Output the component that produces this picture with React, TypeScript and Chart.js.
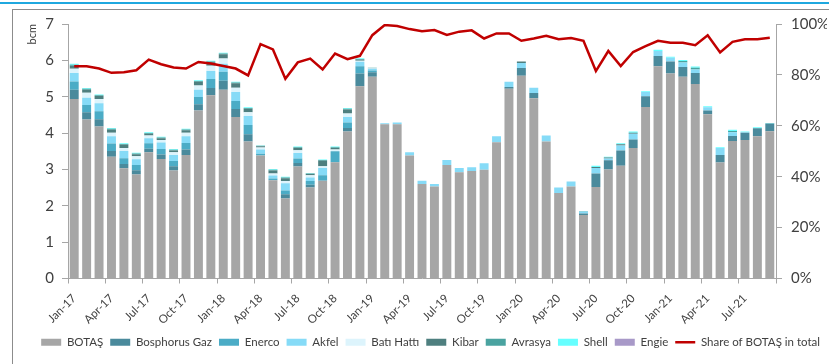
import React, { useEffect, useRef } from 'react';
import { Chart, registerables } from 'chart.js';

Chart.register(...registerables);

const categories = [
  'Jan-17','Feb-17','Mar-17','Apr-17','May-17','Jun-17','Jul-17','Aug-17','Sep-17','Oct-17','Nov-17','Dec-17',
  'Jan-18','Feb-18','Mar-18','Apr-18','May-18','Jun-18','Jul-18','Aug-18','Sep-18','Oct-18','Nov-18','Dec-18',
  'Jan-19','Feb-19','Mar-19','Apr-19','May-19','Jun-19','Jul-19','Aug-19','Sep-19','Oct-19','Nov-19','Dec-19',
  'Jan-20','Feb-20','Mar-20','Apr-20','May-20','Jun-20','Jul-20','Aug-20','Sep-20','Oct-20','Nov-20','Dec-20',
  'Jan-21','Feb-21','Mar-21','Apr-21','May-21','Jun-21','Jul-21','Aug-21','Sep-21',
];

const botas = [
  4.94,4.37,4.18,3.35,3.03,2.86,3.47,3.29,2.97,3.40,4.62,5.04,
  5.19,4.44,3.77,3.38,2.70,2.20,3.08,2.50,2.69,3.20,4.04,5.29,
  5.55,4.24,4.24,3.38,2.60,2.53,3.12,2.92,2.96,2.99,3.75,5.22,
  5.58,4.96,3.77,2.35,2.53,1.75,2.52,3.00,3.10,3.59,4.72,5.84,
  5.64,5.55,5.35,4.52,3.19,3.78,3.81,3.91,4.05,
];
const bosphorus = [
  0.25,0.20,0.20,0.16,0.12,0.12,0.10,0.12,0.12,0.15,0.17,0.20,
  0.25,0.22,0.20,0.00,0.00,0.12,0.10,0.08,0.00,0.00,0.10,0.35,
  0.12,0,0,0,0,0,0,0,0,0,0,0.05,
  0.21,0.14,0,0,0,0.04,0.37,0.25,0.42,0.23,0.29,0.28,
  0.33,0.27,0.30,0.10,0.21,0.14,0.20,0.22,0.21,
];
const enerco = [
  0.23,0.20,0.22,0.20,0.16,0.14,0.15,0.15,0.14,0.18,0.20,0.25,
  0.25,0.22,0.25,0.05,0.05,0.10,0.12,0.10,0.15,0.30,0.15,0.20,
  0.05,0,0,0,0,0,0,0,0,0,0,0,
  0,0,0,0,0,0,0,0,0,0,0,0,
  0,0,0,0,0,0,0,0,0,
];
const akfel = [
  0.23,0.20,0.22,0.20,0.20,0.16,0.14,0.18,0.17,0.18,0.20,0.22,
  0.22,0.25,0.25,0.12,0.08,0.20,0.15,0.10,0.20,0.00,0.15,0.12,
  0.05,0.03,0.05,0.09,0.09,0.07,0.14,0.12,0.10,0.18,0.16,0.14,
  0.14,0.15,0.16,0.15,0.14,0.05,0.15,0.05,0.14,0.16,0.12,0.14,
  0.10,0.12,0.10,0.09,0.19,0.10,0.01,0.00,0.00,
];
const batiHatti = [
  0.12,0.14,0.12,0.10,0.08,0.08,0.07,0.07,0.07,0.10,0.12,0.14,
  0.14,0.12,0.10,0.05,0.06,0.06,0.08,0.06,0.05,0.05,0.10,0.03,
  0.01,0,0,0,0,0,0,0,0,0,0,0,
  0,0,0,0,0,0,0,0,0,0,0,0,
  0,0,0,0,0,0,0,0,0,
];
const kibar = [
  0.08,0.08,0.08,0.08,0.09,0.06,0.05,0.05,0.05,0.07,0.10,0.10,
  0.12,0.12,0.10,0.04,0.08,0.08,0.06,0.04,0.15,0.04,0.11,0.03,
  0.01,0,0,0,0,0,0,0,0,0,0,0,
  0.04,0,0,0,0,0,0.03,0.03,0.03,0.03,0,0,
  0,0,0,0,0,0,0,0,0,
];
const avrasya = [
  0.03,0.03,0.02,0.03,0.02,0.02,0.02,0.02,0.02,0.02,0.02,0.02,
  0.02,0.02,0.02,0.01,0.02,0.02,0.02,0.01,0.02,0.02,0.02,0.02,
  0.01,0,0,0,0,0,0,0,0,0,0,0,
  0,0,0,0,0,0.02,0,0,0,0,0,0,
  0,0.04,0.05,0,0,0.04,0,0,0,
];
const shell = [
  0.03,0.02,0.02,0.02,0.02,0.02,0.02,0.02,0.02,0.02,0.02,0.02,
  0.02,0.02,0.02,0.01,0.02,0.02,0.02,0.01,0.01,0.02,0.02,0.02,
  0,0,0,0,0,0,0,0,0,0,0,0,
  0,0,0,0,0,0,0.03,0.02,0.03,0.03,0.02,0.03,
  0.03,0.03,0.03,0.03,0.02,0.03,0.02,0.03,0.02,
];
const engie = [
  0,0,0,0,0,0,0,0,0,0,0,0,
  0,0,0,0,0,0,0,0,0,0,0,0,
  0,0,0,0,0,0,0,0,0,0,0,0,
  0,0,0,0,0,0,0,0,0,0,0,0,
  0,0,0,0,0,0,0,0,0,
];
const shareBotas = [
  83.4,83.4,82.5,80.8,81.0,81.8,86.0,84.2,82.9,82.5,85.1,84.5,
  83.5,82.5,79.8,92.1,90.0,78.5,84.9,86.4,82.1,88.4,86.2,87.5,
  95.6,99.6,99.2,98.0,97.2,97.6,95.7,97.0,97.5,94.3,96.3,96.3,
  93.4,94.3,95.4,94.0,94.5,93.4,81.5,89.4,83.5,89.0,91.3,93.4,
  92.6,92.6,91.7,95.6,88.8,93.0,94.0,94.0,94.6,
];

const leftTicks = [0, 1, 2, 3, 4, 5, 6, 7];
const rightTicks = [0, 20, 40, 60, 80, 100];

const barSeries = [
  { label: 'BOTAŞ', data: botas, color: '#A6A6A6' },
  { label: 'Bosphorus Gaz', data: bosphorus, color: '#4A8A9C' },
  { label: 'Enerco', data: enerco, color: '#4BACC6' },
  { label: 'Akfel', data: akfel, color: '#86DBF7' },
  { label: 'Batı Hattı', data: batiHatti, color: '#DDF4FC' },
  { label: 'Kibar', data: kibar, color: '#4E7F7F' },
  { label: 'Avrasya', data: avrasya, color: '#4AA3A0' },
  { label: 'Shell', data: shell, color: '#66FFFF' },
  { label: 'Engie', data: engie, color: '#A899C8' },
];

const AXIS = '#A6A6A6';
const TEXT = '#404040';
const FONT = 'Lato';

export default function App() {
  const ref = useRef<HTMLCanvasElement | null>(null);

  useEffect(() => {
    if (!ref.current) return;
    Chart.defaults.font.family = FONT;
    Chart.defaults.color = TEXT;
    const datasets: any[] = barSeries.map((s) => ({
      type: 'bar',
      label: s.label,
      data: s.data,
      backgroundColor: s.color,
      borderWidth: 0,
      yAxisID: 'y',
      stack: 'imports',
      order: 1,
    }));
    datasets.push({
      type: 'line',
      label: 'Share of BOTAŞ in total',
      data: shareBotas,
      borderColor: '#C00000',
      backgroundColor: '#C00000',
      borderWidth: 2.5,
      pointRadius: 0,
      tension: 0,
      yAxisID: 'y1',
      order: 0,
    });

    const chart = new Chart(ref.current, {
      type: 'bar',
      data: { labels: categories, datasets },
      options: {
        responsive: false,
        animation: false,
        layout: { padding: { top: 24, left: 0, right: 2, bottom: 6 } },
        plugins: {
          tooltip: { enabled: false },
          legend: {
            position: 'bottom',
            align: 'end',
            labels: {
              font: { size: 11.5, family: FONT },
              color: TEXT,
              usePointStyle: true,
              pointStyleWidth: 20,
              boxHeight: 7,
              padding: 7,
              sort: (a: any, b: any) => a.datasetIndex - b.datasetIndex,
              generateLabels: (c: any) => {
                const items = Chart.defaults.plugins.legend.labels.generateLabels(c);
                return items.map((it: any) => ({
                  ...it,
                  pointStyle: it.datasetIndex === barSeries.length ? 'line' : 'rect',
                }));
              },
            },
          },
        },
        scales: {
          x: {
            stacked: true,
            offset: true,
            grid: {
              offset: true,
              drawOnChartArea: false,
              tickLength: 5,
              color: (ctx: any) =>
                ctx.index === undefined || ctx.index % 3 === 0 ? AXIS : 'rgba(0,0,0,0)',
            },
            border: { display: true, color: AXIS, width: 1 },
            ticks: {
              autoSkip: false,
              maxRotation: 45,
              minRotation: 45,
              padding: 8,
              font: { size: 11.5, family: FONT },
              color: TEXT,
              callback: (_v: any, i: number) => (i % 3 === 0 ? categories[i] : ''),
            },
            afterFit: (s: any) => { s.height = 51; },
          },
          y: {
            stacked: true,
            position: 'left',
            min: leftTicks[0],
            max: leftTicks[leftTicks.length - 1],
            afterBuildTicks: (s: any) => { s.ticks = leftTicks.map((v) => ({ value: v })); },
            grid: { drawOnChartArea: false, tickLength: 6, color: AXIS },
            border: { display: true, color: AXIS, width: 1 },
            ticks: { font: { size: 15, family: FONT }, color: TEXT, padding: 8 },
            title: {
              display: true,
              text: 'bcm',
              align: 'end',
              font: { size: 11, family: FONT },
              color: TEXT,
              padding: { top: 26, bottom: 0 },
            },
            afterFit: (s: any) => { s.width = 68; },
          },
          y1: {
            stacked: false,
            position: 'right',
            min: rightTicks[0],
            max: rightTicks[rightTicks.length - 1],
            afterBuildTicks: (s: any) => { s.ticks = rightTicks.map((v) => ({ value: v })); },
            grid: { drawOnChartArea: false, tickLength: 6, color: AXIS },
            border: { display: true, color: AXIS, width: 1 },
            ticks: {
              font: { size: 15, family: FONT },
              color: TEXT,
              padding: 9,
              callback: (v: any) => v + '%',
            },
            afterFit: (s: any) => { s.width = 51; },
          },
        },
      } as any,
    });
    return () => chart.destroy();
  }, []);

  return (
    <div style={{ position: 'fixed', left: 0, top: 0, width: 829, height: 364, background: '#fff', overflow: 'hidden' }}>
      <div style={{ position: 'absolute', left: 0, top: 2, width: 829, height: 2, background: '#1FA8DF' }} />
      <div style={{ position: 'absolute', left: 12, top: 9, width: 830, height: 370, borderLeft: '1px solid #8C8C8C', borderTop: '1px solid #8C8C8C' }} />
      <canvas ref={ref} width={829} height={364} style={{ position: 'absolute', left: 0, top: 0, width: 829, height: 364 }} />
    </div>
  );
}
